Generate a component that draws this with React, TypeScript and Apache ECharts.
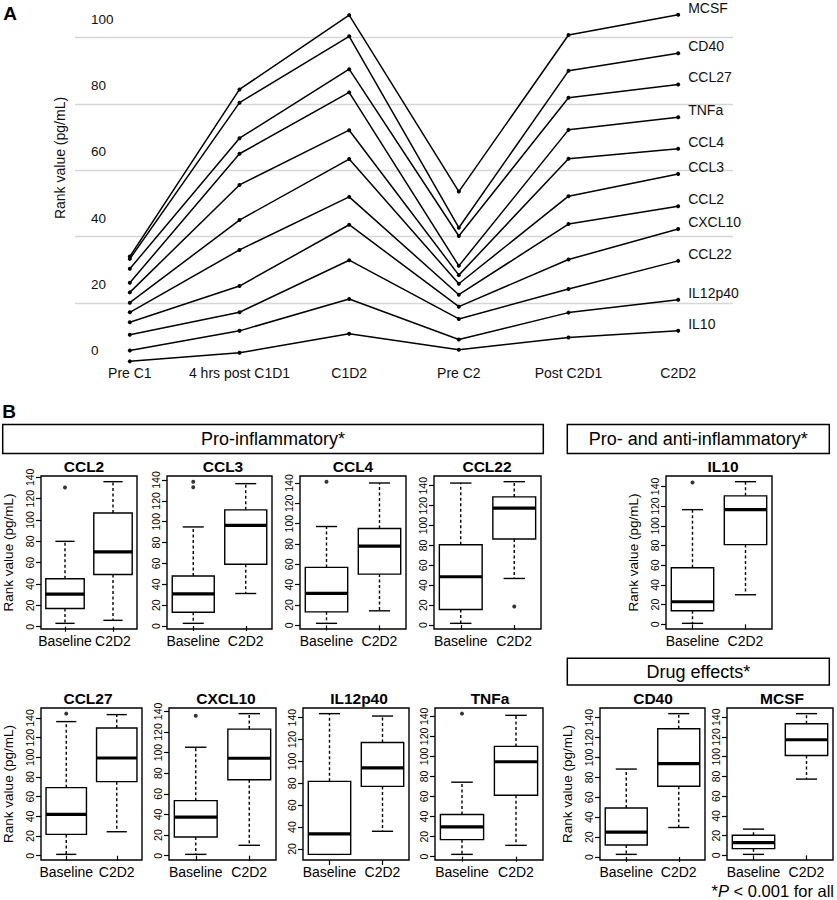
import React, { useEffect, useRef } from 'react';
import * as echarts from 'echarts';

// ---------- Panel A data ----------
const timepoints = ['Pre C1', '4 hrs post C1D1', 'C1D2', 'Pre C2', 'Post C2D1', 'C2D2'];
const cytokineNames = ['MCSF', 'CD40', 'CCL27', 'TNFa', 'CCL4', 'CCL3', 'CCL2', 'CXCL10', 'CCL22', 'IL12p40', 'IL10'];
const rankMCSF = [34.0, 84.4, 106.8, 53.6, 100.8, 106.9];
const rankCD40 = [33.3, 80.4, 100.4, 42.7, 90.0, 95.3];
const rankCCL27 = [30.3, 69.7, 90.5, 40.2, 81.9, 85.9];
const rankTNFa = [26.1, 65.0, 83.5, 31.2, 72.2, 76.0];
const rankCCL4 = [23.2, 55.6, 72.1, 28.4, 63.5, 66.5];
const rankCCL3 = [20.1, 45.0, 63.4, 25.8, 52.2, 58.9];
const rankCCL2 = [17.2, 36.0, 52.0, 22.5, 43.8, 49.2];
const rankCXCL10 = [14.2, 25.1, 43.6, 18.9, 33.1, 42.3];
const rankCCL22 = [10.4, 17.2, 32.9, 15.2, 24.2, 32.7];
const rankIL12p40 = [5.7, 11.6, 21.2, 9.0, 17.1, 21.0];
const rankIL10 = [2.4, 5.0, 10.7, 5.9, 9.6, 11.6];
const rankSeries = [rankMCSF, rankCD40, rankCCL27, rankTNFa, rankCCL4, rankCCL3, rankCCL2, rankCXCL10, rankCCL22, rankIL12p40, rankIL10];

// ---------- Panel B data ----------
const groups = ['Baseline', 'C2D2'];
const boxTicks = [0, 20, 40, 60, 80, 100, 120, 140];
const boxTicksIL12p40 = [20, 40, 60, 80, 100, 120, 140];
// [low whisker, Q1, median, Q3, high whisker] for Baseline, C2D2
const boxCCL2 = [[3.2, 17.1, 30.5, 44.9, 80.0], [6.0, 49.0, 70.2, 106.5, 135.9]];
const outCCL2 = [[130.5], []];
const boxCCL3 = [[2.6, 13.2, 30.9, 48.0, 95.0], [31.2, 59.2, 96.5, 111.4, 136.5]];
const outCCL3 = [[133.0, 138.4], []];
const boxCCL4 = [[2.0, 13.3, 31.5, 57.0, 97.2], [14.3, 50.4, 78.0, 95.2, 140.0]];
const outCCL4 = [[141.3], []];
const boxCCL22 = [[1.7, 15.6, 48.5, 80.7, 142.7], [46.8, 86.4, 117.6, 128.8, 144.1]];
const outCCL22 = [[], [18.6]];
const boxIL10 = [[1.0, 13.7, 22.9, 57.4, 116.4], [30.0, 80.9, 116.4, 130.4, 144.8]];
const outIL10 = [[144.0], []];
const boxCCL27 = [[1.4, 21.7, 42.0, 69.2, 136.3], [24.4, 75.3, 99.3, 129.8, 143.4]];
const outCCL27 = [[144.4], []];
const boxCXCL10 = [[1.3, 18.2, 37.5, 53.4, 105.2], [10.1, 73.6, 94.5, 122.8, 137.8]];
const outCXCL10 = [[135.8], []];
const boxIL12p40 = [[15.1, 15.1, 33.8, 81.8, 143.7], [36.2, 77.2, 94.1, 117.3, 141.5]];
const outIL12p40 = [[], []];
const boxTNFa = [[2.3, 17.0, 29.7, 42.0, 74.3], [11.3, 61.3, 94.7, 110.0, 141.0]];
const outTNFa = [[142.7], []];
const boxCD40 = [[2.7, 12.1, 25.0, 49.3, 88.4], [29.7, 71.2, 93.8, 128.9, 144.1]];
const outCD40 = [[], []];
const boxMCSF = [[1.0, 6.8, 12.9, 20.4, 26.6], [77.3, 101.2, 117.2, 133.5, 143.7]];
const outMCSF = [[], []];

const headerTexts = ['Pro-inflammatory*', 'Pro- and anti-inflammatory*', 'Drug effects*'];

// ---------- layout (positions only) ----------
type Panel = { name: string; box: number[][]; out: number[][]; ticks: number[]; frame: number[]; titleX: number; yName: boolean };
const panels: Panel[] = [
  { name: 'CCL2', box: boxCCL2, out: outCCL2, ticks: boxTicks, frame: [36, 476, 101, 153], titleX: 84, yName: true },
  { name: 'CCL3', box: boxCCL3, out: outCCL3, ticks: boxTicks, frame: [167, 476, 105, 153], titleX: 223, yName: false },
  { name: 'CCL4', box: boxCCL4, out: outCCL4, ticks: boxTicks, frame: [300, 476, 106, 153], titleX: 353, yName: false },
  { name: 'CCL22', box: boxCCL22, out: outCCL22, ticks: boxTicks, frame: [434, 476, 107, 153], titleX: 487, yName: false },
  { name: 'IL10', box: boxIL10, out: outIL10, ticks: boxTicks, frame: [666, 476, 106, 153], titleX: 723, yName: true },
  { name: 'CCL27', box: boxCCL27, out: outCCL27, ticks: boxTicks, frame: [36, 708, 106, 152], titleX: 88, yName: true },
  { name: 'CXCL10', box: boxCXCL10, out: outCXCL10, ticks: boxTicks, frame: [169, 708, 107, 152], titleX: 226, yName: false },
  { name: 'IL12p40', box: boxIL12p40, out: outIL12p40, ticks: boxTicksIL12p40, frame: [303, 708, 106, 152], titleX: 359, yName: false },
  { name: 'TNFa', box: boxTNFa, out: outTNFa, ticks: boxTicks, frame: [435, 708, 108, 152], titleX: 490, yName: false },
  { name: 'CD40', box: boxCD40, out: outCD40, ticks: boxTicks, frame: [600, 708, 105, 152], titleX: 653, yName: true },
  { name: 'MCSF', box: boxMCSF, out: outMCSF, ticks: boxTicks, frame: [727, 708, 106, 152], titleX: 782, yName: false },
];

const FONT = '"Liberation Sans", Arial, Helvetica, sans-serif';
const INK = '#111';

function renderBox(params: any, api: any) {
  const xi = api.value(0);
  const pts = [1, 2, 3, 4, 5].map((d) => api.coord([xi, api.value(d)]));
  const cx = pts[0][0];
  const band = api.size([1, 0])[0];
  const bw = band * 0.8;
  const cap = bw / 4;
  const [yLow, yQ1, yMed, yQ3, yHigh] = pts.map((p: number[]) => p[1]);
  const dashed = { stroke: '#000', lineWidth: 1.4, lineDash: [3, 2.5], fill: null };
  const solid = { stroke: '#000', lineWidth: 1.4, fill: null };
  return {
    type: 'group',
    children: [
      { type: 'line', shape: { x1: cx, y1: yQ1, x2: cx, y2: yLow }, style: dashed },
      { type: 'line', shape: { x1: cx, y1: yQ3, x2: cx, y2: yHigh }, style: dashed },
      { type: 'line', shape: { x1: cx - cap, y1: yLow, x2: cx + cap, y2: yLow }, style: solid },
      { type: 'line', shape: { x1: cx - cap, y1: yHigh, x2: cx + cap, y2: yHigh }, style: solid },
      { type: 'rect', shape: { x: cx - bw / 2, y: yQ3, width: bw, height: yQ1 - yQ3 }, style: { fill: '#fff', stroke: '#000', lineWidth: 1.4 } },
      { type: 'line', shape: { x1: cx - bw / 2, y1: yMed, x2: cx + bw / 2, y2: yMed }, style: { stroke: '#000', lineWidth: 3.2 } },
    ],
  };
}

function buildOption() {
  const grid: any[] = [];
  const xAxis: any[] = [];
  const yAxis: any[] = [];
  const series: any[] = [];
  const graphic: any[] = [];

  // Panel A
  grid.push({ left: 75, top: 4.5, width: 658, height: 364.83 });
  xAxis.push({
    type: 'category', gridIndex: 0, data: timepoints, boundaryGap: true,
    axisLine: { show: false }, axisTick: { show: false },
    axisLabel: { interval: 0, margin: -3, fontSize: 14, color: INK, fontFamily: FONT },
  });
  yAxis.push({
    type: 'value', gridIndex: 0, min: 0, max: 110, interval: 20,
    axisLine: { show: false }, axisTick: { show: false },
    axisLabel: { align: 'left', margin: -16, verticalAlign: 'bottom', lineHeight: 37, fontSize: 13.5, color: INK, fontFamily: FONT, showMaxLabel: false },
    splitLine: { show: true, showMinLine: false, showMaxLine: false, lineStyle: { color: '#d6d6d6', width: 1.3 } },
  });
  cytokineNames.forEach((name, i) => {
    series.push({
      type: 'line', name, xAxisIndex: 0, yAxisIndex: 0, data: rankSeries[i],
      symbol: 'circle', symbolSize: 4, showSymbol: true,
      lineStyle: { color: '#000', width: 1.5 }, itemStyle: { color: '#000' },
      endLabel: { show: true, formatter: '{a}', distance: 10, offset: [0, -7], fontSize: 14, color: INK, fontFamily: FONT },
    });
  });

  // Panel B
  panels.forEach((p, k) => {
    const gi = k + 1;
    const all: number[] = [];
    p.box.forEach((b) => all.push(...b));
    p.out.forEach((o) => all.push(...o));
    const lo = Math.min(...all);
    const hi = Math.max(...all);
    const pad = (hi - lo) * 0.04;
    const [l, t, w, h] = p.frame;
    grid.push({ left: l, top: t, width: w, height: h, show: true, borderColor: '#000', borderWidth: 1.4, backgroundColor: 'transparent' });
    xAxis.push({
      type: 'category', gridIndex: gi, data: groups, boundaryGap: true,
      axisLine: { show: false },
      axisTick: { show: true, alignWithLabel: true, length: 5, lineStyle: { color: '#000', width: 1.2 } },
      axisLabel: { interval: 0, margin: 5, fontSize: 14, color: '#000', fontFamily: FONT },
    });
    yAxis.push({
      type: 'value', gridIndex: gi, min: lo - pad, max: hi + pad,
      name: p.yName ? 'Rank value (pg/mL)' : '', nameLocation: 'middle', nameGap: 26,
      nameTextStyle: { fontSize: 13.5, color: '#000', fontFamily: FONT },
      axisLine: { show: false },
      axisTick: { show: true, length: 5, customValues: p.ticks, lineStyle: { color: '#000', width: 1.2 } },
      axisLabel: { rotate: 90, margin: 6, fontSize: 10.5, color: '#000', fontFamily: FONT, customValues: p.ticks },
      splitLine: { show: false },
    });
    series.push({
      type: 'custom', xAxisIndex: gi, yAxisIndex: gi, renderItem: renderBox,
      encode: { x: 0, y: [1, 2, 3, 4, 5] },
      data: p.box.map((b, gIdx) => [gIdx, ...b]),
      z: 2,
    });
    const outPts: number[][] = [];
    p.out.forEach((o, gIdx) => o.forEach((v) => outPts.push([gIdx, v])));
    series.push({
      type: 'scatter', xAxisIndex: gi, yAxisIndex: gi, data: outPts,
      symbol: 'circle', symbolSize: 4, itemStyle: { color: '#000' }, z: 3,
    });
    graphic.push({
      type: 'text', x: p.titleX, y: t - 10,
      style: { text: p.name, align: 'center', verticalAlign: 'middle', fontSize: 15.5, fontWeight: 'bold', fill: '#000', fontFamily: FONT },
    });
  });

  // Annotations
  graphic.push(
    { type: 'text', x: 10, y: 13, style: { text: 'A', align: 'center', verticalAlign: 'middle', fontSize: 19, fontWeight: 'bold', fill: '#000', fontFamily: FONT } },
    { type: 'text', x: 9, y: 411, style: { text: 'B', align: 'center', verticalAlign: 'middle', fontSize: 19, fontWeight: 'bold', fill: '#000', fontFamily: FONT } },
    { type: 'text', x: 60, y: 158, rotation: Math.PI / 2, style: { text: 'Rank value (pg/mL)', align: 'center', verticalAlign: 'middle', fontSize: 14, fill: INK, fontFamily: FONT } },
    { type: 'rect', shape: { x: 2.7, y: 424.5, width: 540.6, height: 29 }, style: { fill: 'none', stroke: '#000', lineWidth: 1.5 } },
    { type: 'text', x: 273, y: 439, style: { text: headerTexts[0], align: 'center', verticalAlign: 'middle', fontSize: 18, fill: '#000', fontFamily: FONT } },
    { type: 'rect', shape: { x: 567.3, y: 424.5, width: 262, height: 29 }, style: { fill: 'none', stroke: '#000', lineWidth: 1.5 } },
    { type: 'text', x: 698.3, y: 439, style: { text: headerTexts[1], align: 'center', verticalAlign: 'middle', fontSize: 18, fill: '#000', fontFamily: FONT } },
    { type: 'rect', shape: { x: 567.3, y: 658.3, width: 262, height: 26.7 }, style: { fill: 'none', stroke: '#000', lineWidth: 1.5 } },
    { type: 'text', x: 698.3, y: 671.6, style: { text: headerTexts[2], align: 'center', verticalAlign: 'middle', fontSize: 18, fill: '#000', fontFamily: FONT } },
    {
      type: 'text', x: 834, y: 891,
      style: {
        text: '*{i|P} < 0.001 for all', align: 'right', verticalAlign: 'middle', fontSize: 16.5, fill: '#000', fontFamily: FONT,
        rich: { i: { fontStyle: 'italic', fontSize: 16.5, fill: '#000', fontFamily: FONT } },
      },
    },
  );

  return {
    animation: false,
    backgroundColor: '#fff',
    textStyle: { fontFamily: FONT },
    grid, xAxis, yAxis, series, graphic,
  };
}

export default function App() {
  const ref = useRef<HTMLDivElement>(null);
  useEffect(() => {
    if (!ref.current) return;
    const chart = echarts.init(ref.current, undefined, { renderer: 'svg' });
    chart.setOption(buildOption() as any);
    return () => chart.dispose();
  }, []);
  return <div ref={ref} style={{ position: 'absolute', left: 0, top: 0, width: 837, height: 900 }} />;
}
